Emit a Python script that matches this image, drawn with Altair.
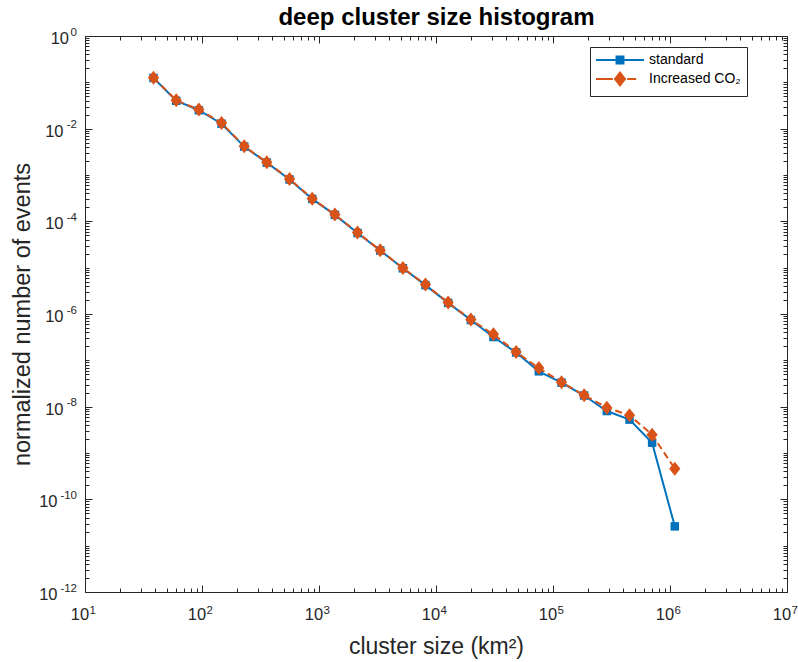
import json
import altair as alt
import pandas as pd

# ---------------- data ----------------
cluster_size = [38.5, 60.2, 94.0, 146.9, 229.6, 358, 560, 875, 1367, 2134, 3335, 5212,
                8128, 12700, 19860, 30970, 48420, 75680, 118300, 184500, 288400, 450800,
                703100, 1099000]
standard = [0.124, 0.040, 0.0250, 0.0128, 4.10e-3, 1.85e-3, 8.0e-4, 3.05e-4, 1.38e-4,
            5.6e-5, 2.35e-5, 9.7e-6, 4.2e-6, 1.74e-6, 7.4e-7, 3.18e-7, 1.48e-7, 5.79e-8,
            3.3e-8, 1.74e-8, 8.05e-9, 5.25e-9, 1.67e-9, 2.61e-11]
increased = [0.126, 0.041, 0.0258, 0.0133, 4.16e-3, 1.88e-3, 8.19e-4, 3.09e-4, 1.40e-4,
             5.71e-5, 2.37e-5, 9.84e-6, 4.31e-6, 1.76e-6, 7.57e-7, 3.64e-7, 1.51e-7,
             6.82e-8, 3.35e-8, 1.76e-8, 9.53e-9, 6.50e-9, 2.49e-9, 4.60e-10]
series_names = ["standard", "Increased CO₂"]

x_ticks = [1e1, 1e2, 1e3, 1e4, 1e5, 1e6, 1e7]
x_tick_exponents = ["1", "2", "3", "4", "5", "6", "7"]
y_ticks = [1e-12, 1e-10, 1e-8, 1e-6, 1e-4, 1e-2, 1e0]
y_tick_exponents = ["-12", "-10", "-8", "-6", "-4", "-2", "0"]
tick_base = "10"

title_text = "deep cluster size histogram"
x_title = "cluster size (km²)"
y_title = "normalized number of events"

# ---------------- styling ----------------
BLUE = "#0072BD"
ORANGE = "#D95319"
AX = "#262626"
FONT = "Liberation Sans"
W, H = 702, 556
MAJ, MIN = 7, 4

x_minor = [m * 10 ** k for k in range(1, 7) for m in range(2, 10)]
y_minor = ([m * 10.0 ** k for k in range(-12, 0) for m in range(2, 10)]
           + [10.0 ** k for k in range(-11, 0, 2)])


def label_expr(labels, first_exp, step):
    return (json.dumps(labels, ensure_ascii=False)
            + f"[round((log(datum.value)/LN10 - ({first_exp}))/{step})]")


def ax(orient, values, offset=0, tick=0, labels=False, domain=False, title=None, **kw):
    return alt.Axis(orient=orient, values=values, offset=offset, ticks=tick > 0,
                    tickSize=tick, labels=labels, domain=domain, grid=False, title=title,
                    tickColor=AX, domainColor=AX, tickWidth=1, domainWidth=1,
                    labelFlush=False, labelOverlap=False, labelFont=FONT, labelColor=AX,
                    **kw)


TEN_X = dict(labelExpr=f"'{tick_base}'", labelFontSize=16.5)
TEN_Y = dict(labelExpr=f"'{tick_base}'", labelFontSize=16.5, labelAlign="right",
             labelBaseline="middle", labelOffset=2.5)

x_ten = ax("bottom", x_ticks, labels=True, domain=True, title=x_title,
           labelAlign="center", labelBaseline="alphabetic", labelPadding=27.3,
           labelOffset=-5.5, titleFont=FONT, titleFontSize=23, titleFontWeight="normal",
           titleColor=AX, titleBaseline="alphabetic", titleAlign="center",
           titleX=W / 2, titleY=61.5, **TEN_X)
x_exp = ax("bottom", x_ticks, labels=True, labelExpr=label_expr(x_tick_exponents, 1, 1),
           labelFontSize=11.5, labelAlign="left", labelBaseline="alphabetic",
           labelPadding=21.3, labelOffset=4)
y_ten_a = ax("left", y_ticks[:2], labels=True, domain=True, title=y_title, labelPadding=28,
             titleFont=FONT, titleFontSize=23.5, titleFontWeight="normal", titleColor=AX,
             titleAngle=270, titleBaseline="alphabetic", titleAlign="center",
             titleX=-56, titleY=H / 2, **TEN_Y)
y_ten_b = ax("left", y_ticks[2:6], labels=True, labelPadding=22, **TEN_Y)
y_ten_c = ax("left", y_ticks[6:], labels=True, labelPadding=16.5, **TEN_Y)
y_exp = ax("left", y_ticks, labels=True, labelExpr=label_expr(y_tick_exponents, -12, 2),
           labelFontSize=11.5, labelAlign="right", labelBaseline="middle",
           labelOffset=-4, labelPadding=8.5)

x_maj_bottom = ax("top", x_ticks, offset=-H, tick=MAJ)
x_min_bottom = ax("top", x_minor, offset=-H, tick=MIN)
x_maj_top = ax("bottom", x_ticks, offset=-H, tick=MAJ, domain=True, title=title_text,
               titleFont=FONT, titleFontSize=24, titleFontWeight="bold", titleColor="black",
               titleBaseline="alphabetic", titleAlign="center", titleX=W / 2, titleY=-12)
x_min_top = ax("bottom", x_minor, offset=-H, tick=MIN)
y_maj_left = ax("right", y_ticks, offset=-W, tick=MAJ)
y_min_left = ax("right", y_minor, offset=-W, tick=MIN)
y_maj_right = ax("left", y_ticks, offset=-W, tick=MAJ, domain=True)
y_min_right = ax("left", y_minor, offset=-W, tick=MIN)

xs = alt.Scale(type="log", domain=[1e1, 1e7], nice=False)
ys = alt.Scale(type="log", domain=[1e-12, 1e0], nice=False)

df = pd.DataFrame({
    "size": cluster_size + cluster_size,
    "value": standard + increased,
    "series": [series_names[0]] * len(standard) + [series_names[1]] * len(increased),
})
base = alt.Chart(df)


def X(axis):
    return alt.X("size:Q", scale=xs, axis=axis)


def Y(axis):
    return alt.Y("value:Q", scale=ys, axis=axis)


std_filter = f"datum.series == '{series_names[0]}'"
inc_filter = f"datum.series == '{series_names[1]}'"
empty_filter = "datum.value < 0"
diamond = "M0,-1L0.8,0L0,1L-0.8,0Z"

blue_line = base.transform_filter(std_filter).mark_line(
    color=BLUE, strokeWidth=2).encode(x=X(x_ten), y=Y(y_ten_a))
blue_pts = base.transform_filter(std_filter).mark_point(
    shape="square", filled=True, size=72, color=BLUE, opacity=1).encode(
    x=X(x_exp), y=Y(y_ten_b))
orange_line = base.transform_filter(inc_filter).mark_line(
    color=ORANGE, strokeWidth=2, strokeDash=[7, 4]).encode(
    x=X(x_maj_bottom), y=Y(y_ten_c))
orange_pts = base.transform_filter(inc_filter).mark_point(
    shape=diamond, filled=True, size=196, color=ORANGE, opacity=1).encode(
    x=X(x_min_bottom), y=Y(y_exp))

leg = alt.Legend(title=None, orient="none", legendX=505, legendY=11,
                 symbolSize=144, symbolStrokeWidth=2, symbolOffset=17,
                 labelFont=FONT, labelFontSize=14, labelColor="black", labelOffset=22,
                 rowPadding=0, padding=6, strokeColor=AX, fillColor="white",
                 cornerRadius=0)
path_std = "M-4,0H4M-0.58,-0.58H0.58V0.58H-0.58Z"
path_inc = "M-4,0H-1.2M1.2,0H2.7M0,-1.05L0.83,0L0,1.05L-0.83,0Z"
col_scale = alt.Scale(domain=series_names, range=[BLUE, ORANGE])

legend_layer = base.transform_filter(empty_filter).mark_point(filled=True, opacity=1).encode(
    x=X(x_maj_top), y=Y(y_maj_left),
    fill=alt.Fill("series:N", scale=col_scale, legend=leg),
    stroke=alt.Stroke("series:N", scale=col_scale, legend=leg),
    shape=alt.Shape("series:N", scale=alt.Scale(domain=series_names, range=[path_std, path_inc]),
                    legend=leg),
)
guide1 = base.transform_filter(empty_filter).mark_point().encode(x=X(x_min_top), y=Y(y_min_left))
guide2 = base.transform_filter(empty_filter).mark_point().encode(x=X(None), y=Y(y_maj_right))
guide3 = base.transform_filter(empty_filter).mark_point().encode(x=X(None), y=Y(y_min_right))

chart = alt.layer(blue_line, blue_pts, orange_line, orange_pts, legend_layer,
                  guide1, guide2, guide3).resolve_axis(
    x="independent", y="independent"
).properties(
    width=W, height=H,
    autosize=alt.AutoSizeParams(type="none"),
    padding={"left": 85, "top": 36, "right": 11, "bottom": 70},
    background="white",
).configure_view(stroke=None)

chart.save("out.html", embed_options={"renderer": "svg", "actions": False})
